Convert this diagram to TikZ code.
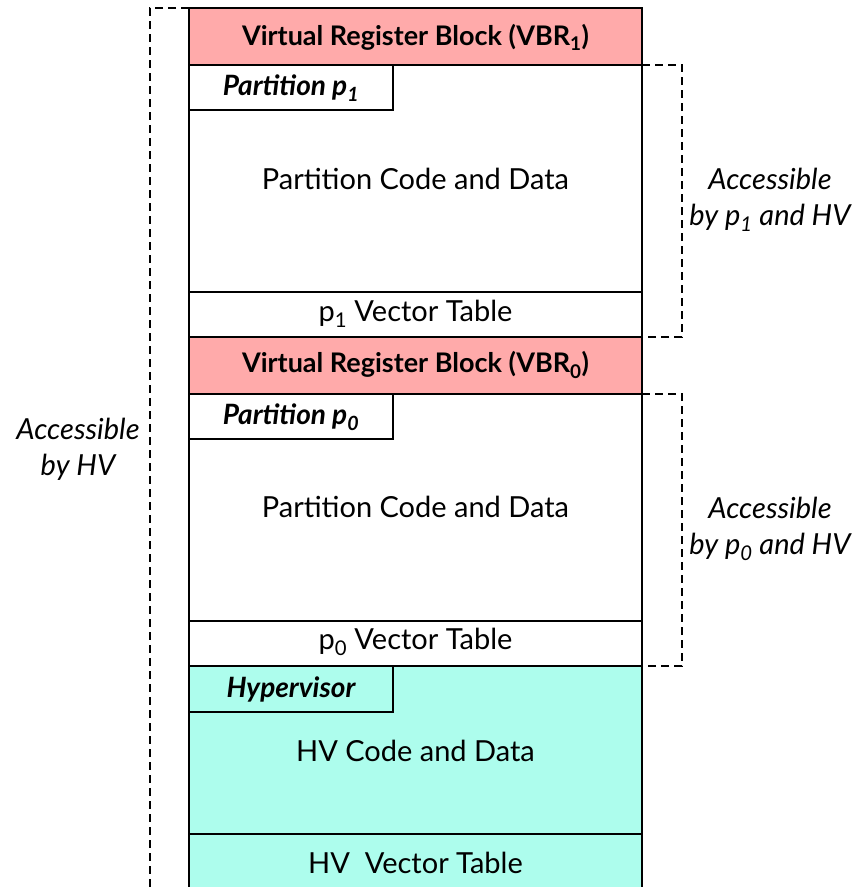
\documentclass[tikz,border=0pt]{standalone}
\usepackage{fontspec}
\setmainfont{Lato}
\definecolor{vbrfill}{HTML}{FFAAAA}
\definecolor{hvfill}{HTML}{ADFDED}
\begin{document}
\begin{tikzpicture}[x=1pt,y=-1pt,
  box/.style={draw=black,line width=1.8pt},
  bracket/.style={draw=black,line width=1.6pt,dash pattern=on 8pt off 5pt},
  body/.style={font=\fontsize{29}{34}\selectfont,inner sep=0pt},
  head/.style={font=\fontsize{27}{32}\selectfont\bfseries,inner sep=0pt},
  tab/.style={font=\fontsize{28}{32}\selectfont\bfseries\itshape,inner sep=0pt},
  side/.style={font=\fontsize{29}{36}\selectfont\itshape,align=center,inner sep=0pt}]
\useasboundingbox (0,0) rectangle (856,887);
\begin{scope}
\clip (0,0) rectangle (856,887);
% memory column
\path[box,fill=vbrfill] (189,8) rectangle (642,65);
\path[box,fill=white] (189,65) rectangle (642,292);
\path[box,fill=white] (189,292) rectangle (642,337);
\path[box,fill=white] (189,65) rectangle (393,110);
\path[box,fill=vbrfill] (189,337) rectangle (642,394);
\path[box,fill=white] (189,394) rectangle (642,621);
\path[box,fill=white] (189,621) rectangle (642,666);
\path[box,fill=white] (189,394) rectangle (393,439);
\path[box,fill=hvfill] (189,666) rectangle (642,834);
\path[box,fill=hvfill] (189,834) rectangle (642,895);
\path[box,fill=hvfill] (189,666) rectangle (393,712);
% access brackets
\path[bracket] (189,8) -- (150,8) -- (150,895);
\path[bracket] (642,65) -- (682,65) -- (682,337) -- (642,337);
\path[bracket] (642,394) -- (682,394) -- (682,666) -- (642,666);
\end{scope}
% labels
\node[head] (vbr1) at (415.5,37) {Virtual Register Block (VBR\textsubscript{1})};
\node[tab] (tab1) at (291,88) {Partition p\textsubscript{1}};
\node[body] (code1) at (415.5,179) {Partition Code and Data};
\node[body] (vt1) at (415.5,314) {p\textsubscript{1} Vector Table};
\node[head] (vbr0) at (415.5,365) {Virtual Register Block (VBR\textsubscript{0})};
\node[tab] (tab0) at (291,417) {Partition p\textsubscript{0}};
\node[body] (code0) at (415.5,507) {Partition Code and Data};
\node[body] (vt0) at (415.5,642) {p\textsubscript{0} Vector Table};
\node[tab] (tabhv) at (291,689) {Hypervisor};
\node[body] (codehv) at (415.5,751) {HV Code and Data};
\node[body] (vthv) at (415.5,863) {HV\ \ Vector Table};
\node[side] (acchv) at (78,449) {Accessible\\by HV};
\node[side] (acc1) at (770,200) {Accessible\\by p\textsubscript{1} and HV};
\node[side] (acc0) at (770,529) {Accessible\\by p\textsubscript{0} and HV};
\end{tikzpicture}
\end{document}
